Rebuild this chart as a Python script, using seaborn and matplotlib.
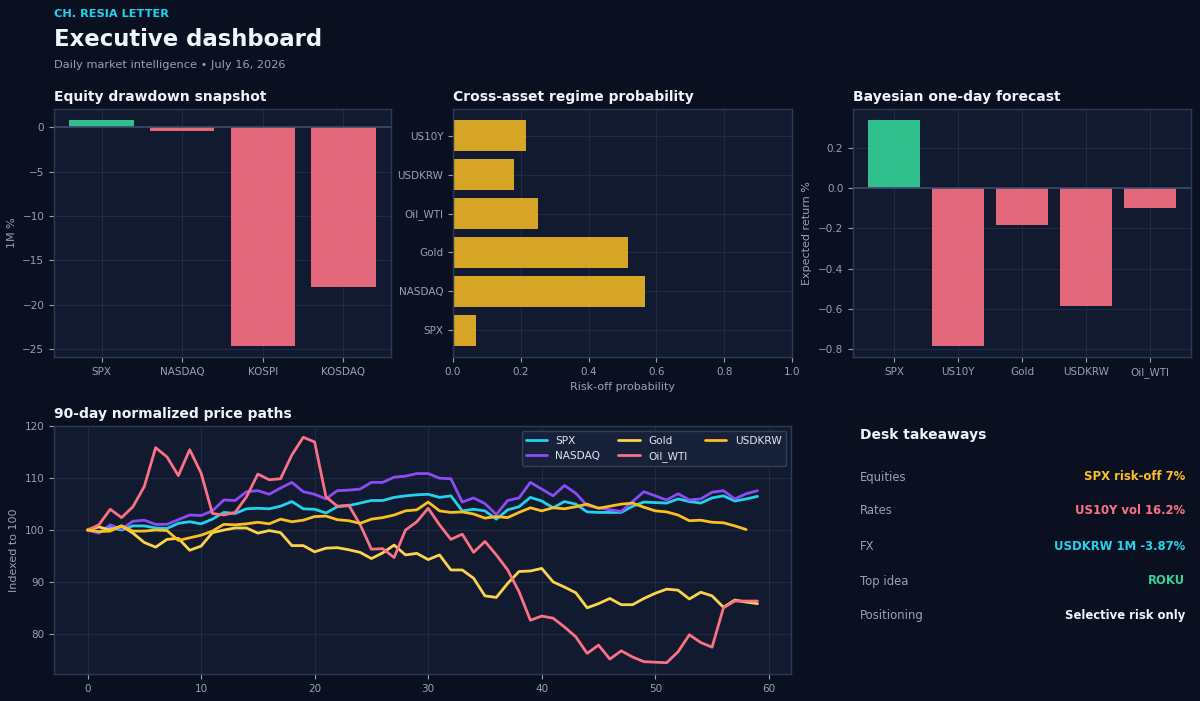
import numpy as np
import pandas as pd
import matplotlib
matplotlib.use("Agg")
import matplotlib.pyplot as plt
import seaborn as sns

# ---------------- data ----------------
eq_names = ["SPX", "NASDAQ", "KOSPI", "KOSDAQ"]
eq_values = [0.79, -0.38, -24.63, -18.04]

regime_names = ["US10Y", "USDKRW", "Oil_WTI", "Gold", "NASDAQ", "SPX"]
regime_values = [0.215, 0.180, 0.250, 0.515, 0.566, 0.068]

fc_names = ["SPX", "US10Y", "Gold", "USDKRW", "Oil_WTI"]
fc_values = [0.340, -0.785, -0.182, -0.588, -0.097]

spx = [100.0, 99.6, 100.5, 100.0, 100.8, 100.8, 100.4, 100.3, 101.3, 101.6,
       101.2, 102.1, 103.4, 103.2, 104.1, 104.2, 104.1, 104.6, 105.5, 104.1,
       104.0, 103.3, 104.5, 104.7, 105.2, 105.7, 105.7, 106.3, 106.6, 106.8,
       106.9, 106.3, 106.6, 103.7, 104.0, 103.7, 102.1, 103.9, 104.5, 106.3,
       105.6, 104.3, 105.5, 105.0, 103.5, 103.4, 103.4, 103.4, 104.6, 105.4,
       105.3, 105.2, 106.0, 105.5, 105.2, 106.2, 106.6, 105.6, 106.0, 106.5]
nasdaq = [100.0, 99.4, 101.0, 100.2, 101.7, 101.9, 101.1, 101.1, 102.0, 102.9,
          102.8, 103.7, 105.8, 105.7, 107.4, 107.6, 106.9, 108.1, 109.2, 107.4,
          106.9, 106.0, 107.6, 107.7, 107.9, 109.2, 109.2, 110.2, 110.4, 110.9,
          110.9, 110.0, 109.9, 105.4, 106.2, 105.1, 103.0, 105.7, 106.2, 109.2,
          107.9, 106.6, 108.6, 107.1, 104.7, 104.3, 103.9, 103.6, 105.5, 107.4,
          106.6, 105.8, 107.0, 105.8, 106.0, 107.3, 107.6, 106.0, 107.0, 107.6]
gold = [100.0, 100.6, 100.0, 100.8, 99.4, 97.6, 96.7, 98.2, 98.4, 96.1,
        96.9, 99.5, 100.0, 100.4, 100.4, 99.4, 99.9, 99.5, 97.0, 97.0,
        95.8, 96.5, 96.6, 96.2, 95.7, 94.5, 95.6, 97.1, 95.2, 95.5,
        94.3, 95.2, 92.3, 92.3, 90.7, 87.3, 87.0, 89.7, 92.0, 92.1,
        92.6, 90.0, 89.0, 87.9, 85.0, 85.8, 86.8, 85.6, 85.6, 86.8,
        87.8, 88.6, 88.4, 86.7, 88.0, 87.3, 85.1, 86.5, 86.1, 85.8]
oil = [100.0, 101.0, 104.0, 102.4, 104.5, 108.4, 115.9, 114.1, 110.5, 115.5,
       111.0, 103.2, 102.9, 103.4, 106.4, 110.8, 109.7, 109.9, 114.5, 117.9,
       117.0, 106.4, 104.6, 104.8, 101.1, 96.3, 96.4, 94.7, 100.0, 101.6,
       104.2, 101.0, 98.2, 99.2, 95.7, 97.8, 95.2, 92.3, 88.1, 82.6,
       83.4, 83.0, 81.3, 79.4, 76.2, 77.8, 75.1, 76.7, 75.5, 74.6,
       74.5, 74.4, 76.5, 79.8, 78.3, 77.4, 85.0, 86.3, 86.3, 86.3]
usdkrw = [100.0, 99.7, 99.8, 100.8, 99.8, 99.8, 100.0, 99.9, 98.0, 98.5,
          99.0, 99.8, 101.1, 101.0, 101.2, 101.5, 101.2, 102.1, 101.6, 101.9,
          102.6, 102.7, 102.0, 101.8, 101.3, 102.1, 102.4, 102.9, 103.7, 103.9,
          105.4, 103.7, 103.4, 103.5, 103.1, 102.3, 102.6, 102.4, 103.4, 104.3,
          103.7, 104.3, 104.1, 104.5, 105.0, 104.2, 104.6, 105.0, 105.2, 104.4,
          103.7, 103.5, 102.9, 101.8, 101.9, 101.5, 101.4, 100.8, 100.1]

series_names = ["SPX", "NASDAQ", "Gold", "Oil_WTI", "USDKRW"]
series_values = [spx, nasdaq, gold, oil, usdkrw]

takeaway_labels = ["Equities", "Rates", "FX", "Top idea", "Positioning"]
takeaway_values = ["SPX risk-off 7%", "US10Y vol 16.2%", "USDKRW 1M -3.87%",
                   "ROKU", "Selective risk only"]

# ---------------- style ----------------
BG = "#0b1020"
PANEL = "#111a2e"
SPINE = "#2c3a5a"
GRID = "#1f2a44"
MUTED = "#94a3b8"
WHITE = "#f1f5f9"
GREEN = "#34d399"
RED = "#fb7185"
AMBER = "#fbbf24"
CYAN = "#22d3ee"
PURPLE = "#8b4cf6"
LIGHTGOLD = "#fcd34d"

TICK_FS = 7.5
LABEL_FS = 8

sns.set_theme(style="dark")
plt.rcParams.update({
    "font.family": ["DejaVu Sans"],
    "axes.facecolor": PANEL,
    "figure.facecolor": BG,
    "axes.edgecolor": SPINE,
    "axes.labelcolor": MUTED,
    "xtick.color": MUTED,
    "ytick.color": MUTED,
    "text.color": WHITE,
    "grid.color": GRID,
    "axes.grid": True,
    "xtick.bottom": True,
    "ytick.left": True,
})

W, H = 1200, 701
fig = plt.figure(figsize=(12, 7.01), dpi=100)
fig.patch.set_facecolor(BG)


def pix_axes(l, t, r, b):
    return fig.add_axes([l / W, 1 - b / H, (r - l) / W, (b - t) / H])


def style_ax(ax, title):
    ax.set_facecolor(PANEL)
    for s in ax.spines.values():
        s.set_color(SPINE)
        s.set_linewidth(1.0)
    ax.grid(True, color=GRID, linewidth=0.8)
    ax.set_axisbelow(True)
    ax.tick_params(colors=MUTED, labelsize=TICK_FS, length=3.5, width=0.8)
    ax.set_title(title, loc="left", color=WHITE, fontsize=10,
                 fontweight="bold", pad=6)


# header
fig.text(54 / W, 1 - 14 / H, "CH. RESIA LETTER", color=CYAN, fontsize=8.2,
         fontweight="bold", va="center", ha="left")
fig.text(54 / W, 1 - 40 / H, "Executive dashboard", color=WHITE, fontsize=16.4,
         fontweight="bold", va="center", ha="left")
fig.text(54 / W, 1 - 65 / H, "Daily market intelligence \u2022 July 16, 2026",
         color=MUTED, fontsize=8.2, va="center", ha="left")

bar_kw = dict(saturation=1, alpha=0.9, width=0.8, linewidth=0)

# ---- panel 1: equity drawdown ----
ax1 = pix_axes(54, 109, 391, 357)
eq_df = pd.DataFrame({"name": eq_names, "val": eq_values})
eq_pal = {n: (GREEN if v >= 0 else RED) for n, v in zip(eq_names, eq_values)}
sns.barplot(data=eq_df, x="name", y="val", hue="name", palette=eq_pal,
            legend=False, ax=ax1, **bar_kw)
ax1.axhline(0, color="#3b4a6b", linewidth=1.2, zorder=3)
ax1.set_xlim(-0.59, 3.59)
ax1.set_xlabel("")
ax1.set_ylabel("1M %", fontsize=LABEL_FS)
style_ax(ax1, "Equity drawdown snapshot")

# ---- panel 2: regime probability ----
ax2 = pix_axes(453, 109, 792, 357)
rg_df = pd.DataFrame({"name": regime_names, "val": regime_values})
sns.barplot(data=rg_df, y="name", x="val", color=AMBER, orient="h",
            saturation=1, alpha=0.85, width=0.8, linewidth=0, ax=ax2)
ax2.set_xlim(0, 1.0)
ax2.set_ylim(5.69, -0.69)
ax2.set_xticks([0, 0.2, 0.4, 0.6, 0.8, 1.0])
ax2.set_ylabel("")
ax2.set_xlabel("Risk-off probability", fontsize=LABEL_FS)
style_ax(ax2, "Cross-asset regime probability")

# ---- panel 3: bayesian forecast ----
ax3 = pix_axes(853, 109, 1191, 357)
fc_df = pd.DataFrame({"name": fc_names, "val": fc_values})
fc_pal = {n: (GREEN if v >= 0 else RED) for n, v in zip(fc_names, fc_values)}
sns.barplot(data=fc_df, x="name", y="val", hue="name", palette=fc_pal,
            legend=False, ax=ax3, **bar_kw)
ax3.axhline(0, color="#3b4a6b", linewidth=1.2, zorder=3)
ax3.set_xlim(-0.64, 4.64)
ax3.set_xlabel("")
ax3.set_ylabel("Expected return %", fontsize=LABEL_FS)
style_ax(ax3, "Bayesian one-day forecast")

# ---- panel 4: price paths ----
ax4 = pix_axes(54, 426, 791, 674)
rows = []
for name, vals in zip(series_names, series_values):
    for i, v in enumerate(vals):
        rows.append({"day": i, "value": v, "series": name})
line_df = pd.DataFrame(rows)
line_pal = {"SPX": CYAN, "NASDAQ": PURPLE, "Gold": LIGHTGOLD,
            "Oil_WTI": RED, "USDKRW": AMBER}
sns.lineplot(data=line_df, x="day", y="value", hue="series",
             hue_order=series_names, palette=line_pal, linewidth=2.0,
             ax=ax4)
ax4.set_xlabel("")
ax4.set_ylabel("Indexed to 100", fontsize=LABEL_FS)
ax4.set_xticks([0, 10, 20, 30, 40, 50, 60])
ax4.set_yticks([80, 90, 100, 110, 120])
style_ax(ax4, "90-day normalized price paths")
leg = ax4.legend(loc="upper right", ncol=3, fontsize=7.6, frameon=True,
                 facecolor="#17213a", edgecolor="#334155", framealpha=1.0,
                 borderaxespad=0.5, columnspacing=1.7)
for t in leg.get_texts():
    t.set_color("#e2e8f0")
for ln in leg.get_lines():
    ln.set_linewidth(2.0)

# ---- desk takeaways ----
fig.text(860 / W, 1 - 435 / H, "Desk takeaways", color=WHITE, fontsize=10,
         fontweight="bold", va="center", ha="left")
row_y = [477, 511, 546, 581, 616]
val_colors = [AMBER, RED, CYAN, GREEN, WHITE]
for lab, val, y, c in zip(takeaway_labels, takeaway_values, row_y, val_colors):
    fig.text(860 / W, 1 - y / H, lab, color=MUTED, fontsize=8.4,
             va="center", ha="left")
    fig.text(1185 / W, 1 - y / H, val, color=c, fontsize=8.4,
             fontweight="bold", va="center", ha="right")

fig.savefig("out.png", dpi=100, facecolor=BG)
